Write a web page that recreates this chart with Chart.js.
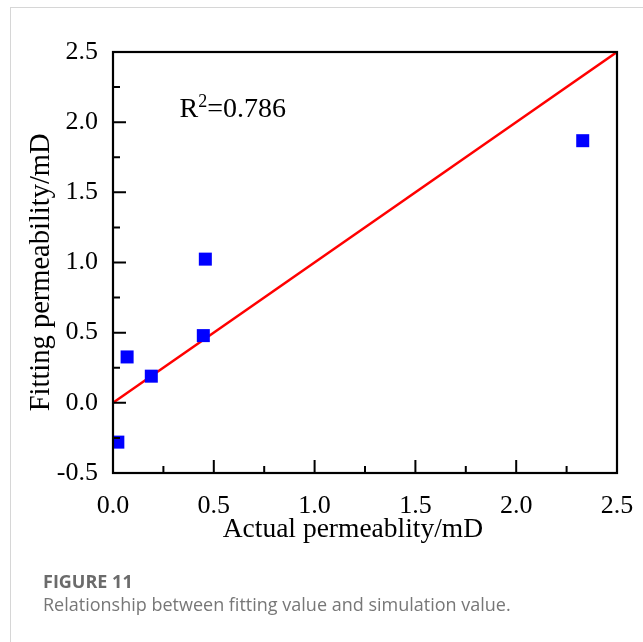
<!DOCTYPE html>
<html>
<head>
<meta charset="utf-8">
<script src="https://cdn.jsdelivr.net/npm/chart.js@4.4.1/dist/chart.umd.min.js"></script>
<style>
  html, body { margin: 0; padding: 0; background: #fff; }
  body { width: 643px; height: 642px; position: relative; overflow: hidden; }
  #card { position: absolute; left: 10px; top: 7px; width: 700px; height: 700px;
          border-top: 1px solid #d6d6d6; border-left: 1px solid #d6d6d6; }
  #wrap { position: absolute; left: 0; top: 0; width: 643px; height: 642px; }
  #figlabel { position: absolute; left: 43px; top: 569px; font-family: "Open Sans", sans-serif;
              font-weight: 700; font-size: 18px; color: #6b6b6b; }
  #figcap { position: absolute; left: 43px; top: 592px; font-family: "Open Sans", sans-serif;
            font-size: 18px; color: #777; }
</style>
</head>
<body>
<div id="card"></div>
<div id="wrap"><canvas id="c" width="643" height="642"></canvas></div>
<div id="figlabel">FIGURE 11</div>
<div id="figcap">Relationship between fitting value and simulation value.</div>
<script>
// ---- data ----
const actualPermeability = [0.024, 0.07, 0.19, 0.448, 0.458, 2.33];
const fittingPermeability = [-0.28, 0.327, 0.19, 0.479, 1.024, 1.868];
const refLineX = [0, 2.5];
const refLineY = [0, 2.5];
const xTickValues = [0.0, 0.5, 1.0, 1.5, 2.0, 2.5];
const yTickValues = [-0.5, 0.0, 0.5, 1.0, 1.5, 2.0, 2.5];
const xTitle = 'Actual permeablity/mD';
const yTitle = 'Fitting permeability/mD';
const r2Label = { base: "R", sup: "2", rest: "=0.786", x: 0.33, y: 2.036 };
// where the axis titles are centred, in data units along their axis
const xTitleCentre = 1.19;
const yTitleCentre = 0.93;

const serif = "'Liberation Serif', 'Times New Roman', serif";

const framePlugin = {
  id: 'frame',
  afterDatasetsDraw(chart) {
    const { ctx, chartArea: a, scales: { x, y } } = chart;
    ctx.save();
    ctx.strokeStyle = '#000';
    ctx.lineWidth = 2;
    ctx.lineCap = 'butt';
    ctx.beginPath();
    xTickValues.forEach((v, i) => {
      const px = x.getPixelForValue(v);
      ctx.moveTo(px, a.bottom); ctx.lineTo(px, a.bottom - 13);
      if (i < xTickValues.length - 1) {
        const pm = x.getPixelForValue((v + xTickValues[i + 1]) / 2);
        ctx.moveTo(pm, a.bottom); ctx.lineTo(pm, a.bottom - 7);
      }
    });
    yTickValues.forEach((v, i) => {
      const py = y.getPixelForValue(v);
      ctx.moveTo(a.left, py); ctx.lineTo(a.left + 13, py);
      if (i < yTickValues.length - 1) {
        const pm = y.getPixelForValue((v + yTickValues[i + 1]) / 2);
        ctx.moveTo(a.left, pm); ctx.lineTo(a.left + 7, pm);
      }
    });
    ctx.stroke();
    ctx.lineWidth = 2.2;
    ctx.strokeRect(a.left, a.top, a.right - a.left, a.bottom - a.top);

    ctx.fillStyle = '#000';
    // axis titles
    ctx.font = "27.5px " + serif;
    ctx.textAlign = 'center';
    ctx.textBaseline = 'middle';
    ctx.fillText(xTitle, x.getPixelForValue(xTitleCentre), x.bottom - 16);
    ctx.save();
    ctx.font = "28.5px " + serif;
    ctx.translate(y.left + 15, y.getPixelForValue(yTitleCentre));
    ctx.rotate(-Math.PI / 2);
    ctx.fillText(yTitle, 0, 0);
    ctx.restore();

    // R^2 annotation
    const tx = x.getPixelForValue(r2Label.x);
    const ty = y.getPixelForValue(r2Label.y);
    ctx.textBaseline = 'alphabetic';
    ctx.textAlign = 'left';
    ctx.font = "28px " + serif;
    ctx.fillText(r2Label.base, tx, ty);
    const w1 = ctx.measureText(r2Label.base).width;
    ctx.font = "18px " + serif;
    ctx.fillText(r2Label.sup, tx + w1, ty - 10);
    const w2 = ctx.measureText(r2Label.sup).width;
    ctx.font = "28px " + serif;
    ctx.fillText(r2Label.rest, tx + w1 + w2, ty);
    ctx.restore();
  }
};

new Chart(document.getElementById('c'), {
  type: 'scatter',
  data: {
    datasets: [
      {
        type: 'scatter',
        data: actualPermeability.map((v, i) => ({ x: v, y: fittingPermeability[i] })),
        pointStyle: 'rect',
        pointRadius: 9.2,
        pointHoverRadius: 9.2,
        backgroundColor: '#0000ff',
        borderWidth: 0,
        order: 0
      },
      {
        type: 'line',
        data: refLineX.map((v, i) => ({ x: v, y: refLineY[i] })),
        borderColor: '#ff0000',
        borderWidth: 2.5,
        pointRadius: 0,
        fill: false,
        order: 1
      }
    ]
  },
  options: {
    responsive: false,
    animation: false,
    devicePixelRatio: 1,
    layout: { padding: { left: 27, right: 26, top: 52, bottom: 96 } },
    plugins: { legend: { display: false }, tooltip: { enabled: false } },
    scales: {
      x: {
        type: 'linear', min: 0, max: 2.5,
        afterFit: s => { s.height = 73; s.paddingLeft = 0; s.paddingRight = 0; },
        afterBuildTicks: s => { s.ticks = xTickValues.map(v => ({ value: v })); },
        grid: { display: false, drawTicks: false },
        border: { display: false },
        ticks: { padding: 18, color: '#000', font: { family: serif, size: 26 }, maxRotation: 0,
                 callback: v => Number(v).toFixed(1) },
        title: { display: false, text: xTitle }
      },
      y: {
        type: 'linear', min: -0.5, max: 2.5,
        afterFit: s => { s.width = 86; s.paddingTop = 0; s.paddingBottom = 0; },
        afterBuildTicks: s => { s.ticks = yTickValues.map(v => ({ value: v })); },
        grid: { display: false, drawTicks: false },
        border: { display: false },
        ticks: { padding: 15, color: '#000', font: { family: serif, size: 26 },
                 callback: v => Number(v).toFixed(1) },
        title: { display: false, text: yTitle }
      }
    }
  },
  plugins: [framePlugin]
});
</script>
</body>
</html>
